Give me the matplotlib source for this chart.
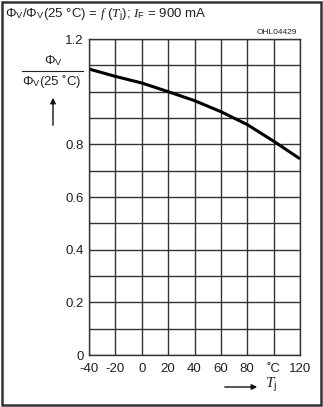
import matplotlib
matplotlib.use("Agg")
import matplotlib.pyplot as plt
from matplotlib.patches import Rectangle, FancyArrowPatch

plt.rcParams['font.family'] = ['Liberation Sans', 'DejaVu Sans']
plt.rcParams['mathtext.fontset'] = 'custom'
plt.rcParams['mathtext.rm'] = 'Liberation Sans'
plt.rcParams['mathtext.it'] = 'Liberation Serif:italic'
plt.rcParams['mathtext.bf'] = 'Liberation Sans:bold'

# Data
temps = [-40, -20, 0, 20, 40, 60, 80, 100, 120]
rel_flux = [1.086, 1.058, 1.033, 1.000, 0.966, 0.924, 0.875, 0.812, 0.745]
x_ticks = [-40, -20, 0, 20, 40, 60, 80, 100, 120]
x_tick_labels = ['-40', '-20', '0', '20', '40', '60', '80', '˚C', '120']
y_ticks = [0, 0.1, 0.2, 0.3, 0.4, 0.5, 0.6, 0.7, 0.8, 0.9, 1.0, 1.1, 1.2]
y_tick_labels = ['0', '', '0.2', '', '0.4', '', '0.6', '', '0.8', '', '', '', '1.2']

W, H = 323, 407
fig = plt.figure(figsize=(W / 100, H / 100), dpi=100)
fig.patch.set_facecolor('white')
fig.patches.append(Rectangle((2 / W, 2 / H), 1 - 4 / W, 1 - 4 / H, transform=fig.transFigure,
                             fill=False, edgecolor='#333333', linewidth=1.8))

ax = fig.add_axes([89 / W, 1 - 355 / H, 211 / W, 316 / H])
ax.set_xlim(-40, 120)
ax.set_ylim(0, 1.2)
ax.set_xticks(x_ticks)
ax.set_xticklabels(x_tick_labels)
ax.set_yticks(y_ticks)
ax.set_yticklabels(y_tick_labels)
ax.grid(True, color='#333333', linewidth=1.0)
for s in ax.spines.values():
    s.set_color('#333333')
    s.set_linewidth(1.0)
ax.tick_params(length=0, labelsize=9.5, colors='#222222')
ax.tick_params(axis='x', pad=6)
ax.tick_params(axis='y', pad=4)
ax.set_axisbelow(True)
ax.plot(temps, rel_flux, color='black', linewidth=2.2, solid_capstyle='butt')

# Title
fig.text(5 / W, 1 - 15 / H,
         'Φ$_\\mathrm{V}$/Φ$_\\mathrm{V}$(25 °C) = $f$ ($T_\\mathrm{j}$); $I_\\mathrm{F}$ = 900 mA',
         fontsize=9.5, va='center', ha='left', color='#222222')
fig.text(297 / W, 1 - 32 / H, 'OHL04429', fontsize=6, ha='right', va='center', color='#222222')

# Y label as fraction
fig.text(53 / W, 1 - 61 / H, 'Φ$_\\mathrm{V}$', fontsize=9.5, ha='center', va='center', color='#222222')
fig.lines.append(plt.Line2D([22 / W, 83 / W], [1 - 71 / H, 1 - 71 / H], transform=fig.transFigure,
                            color='#222222', linewidth=0.8))
fig.text(52 / W, 1 - 81 / H, 'Φ$_\\mathrm{V}$(25 ˚C)', fontsize=9.5, ha='center', va='center', color='#222222')
fig.patches.append(FancyArrowPatch((53 / W, 1 - 128 / H), (53 / W, 1 - 95 / H),
                   transform=fig.transFigure, arrowstyle='-|>', mutation_scale=8,
                   color='#111111', linewidth=1.0))

# X label
fig.patches.append(FancyArrowPatch((222 / W, 1 - 387 / H), (260 / W, 1 - 387 / H),
                   transform=fig.transFigure, arrowstyle='-|>', mutation_scale=8,
                   color='#111111', linewidth=1.0))
fig.text(265 / W, 1 - 385 / H, '$T_\\mathrm{j}$', fontsize=11, ha='left', va='center', color='#222222')

fig.savefig('out.png', dpi=100)
